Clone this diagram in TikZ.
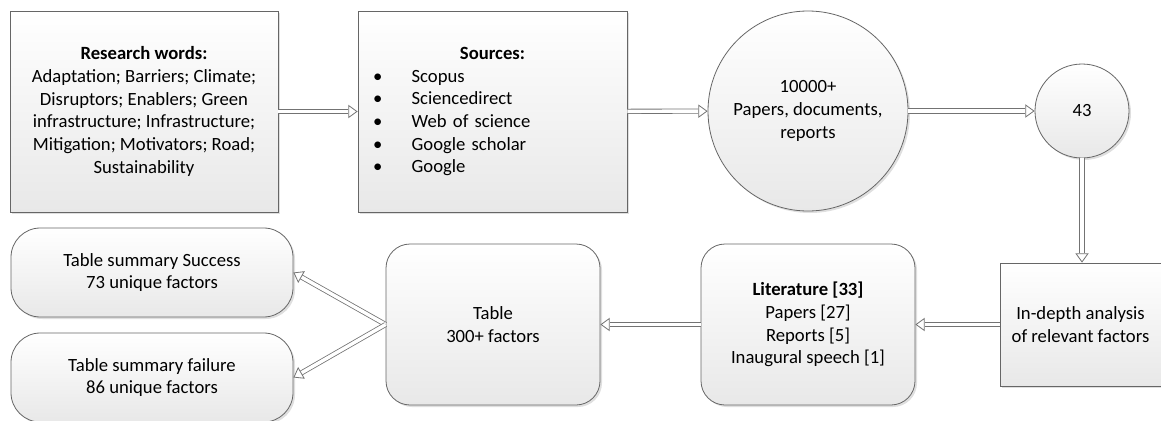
\documentclass[tikz,border=0pt]{standalone}
\usepackage{fontspec}
\setmainfont{Carlito}
\usepackage{tikz}
\usetikzlibrary{arrows.meta, shadows, positioning}

\begin{document}
\begin{tikzpicture}[x=0.75pt, y=-0.75pt, >={Triangle[length=7pt, width=10pt, fill=white]}, semithick]
    \tikzstyle{every node}=[font=\fontsize{14}{17}\selectfont, text=black]
    \tikzstyle{block}=[shape=rectangle, draw=black!60, top color=white, bottom color=black!9, drop shadow={shadow xshift=1.5pt, shadow yshift=-1.5pt, opacity=0.25}, inner sep=0pt, align=center]
    \tikzstyle{roundblock}=[block, rounded corners=18pt, minimum width=160.5pt, minimum height=120.75pt]
    \tikzstyle{pill}=[block, rounded corners=22pt, minimum width=211.5pt, minimum height=66.75pt]
    \tikzstyle{disc}=[block, shape=circle]
    \tikzstyle{pipe}=[->, draw=black!55, double=white, double distance=2.6pt, line width=0.6pt]

    \useasboundingbox (0,0) rectangle (1161,421);

    \node[block, minimum width=201pt, minimum height=150.75pt]  (words) at (144,111.5)
        {\textbf{Research words:}\\Adaptation; Barriers; Climate;\\Disruptors; Enablers; Green\\infrastructure; Infrastructure;\\Mitigation; Motivators; Road;\\Sustainability};
    \node[block, minimum width=201.75pt, minimum height=150.75pt, text width=179.25pt, align=left]  (sources) at (492.5,111.5)
        {\makebox[\hsize]{\textbf{Sources:}}\\
         \makebox[29pt][l]{\textbullet}Scopus\\
         \makebox[29pt][l]{\textbullet}Sciencedirect\\
         \makebox[29pt][l]{\textbullet}Web of science\\
         \makebox[29pt][l]{\textbullet}Google scholar\\
         \makebox[29pt][l]{\textbullet}Google};
    \node[disc, minimum size=150pt]  (found) at (808,111)    {10000+\\Papers, documents,\\reports};
    \node[disc, minimum size=70.5pt]  (kept) at (1082,111)    {43};
    \node[block, minimum width=120.75pt, minimum height=92.25pt]  (depth) at (1080.5,324.5)    {In-depth analysis\\of relevant factors};
    \node[roundblock]  (lit) at (808,324.5)    {\textbf{Literature [33]}\\Papers [27]\\Reports [5]\\Inaugural speech [1]};
    \node[roundblock]  (tbl) at (493,324.5)    {Table\\300+ factors};
    \node[pill]  (succ) at (152,272.5)    {Table summary Success\\73 unique factors};
    \node[pill]  (fail) at (152,377.5)    {Table summary failure\\86 unique factors};

    \path
    (words)     edge[pipe]   (sources)
    (sources)   edge[pipe]   (found)
    (found)     edge[pipe]   (kept)
    (kept)      edge[pipe]   (kept |- depth.north)
    (depth)     edge[pipe]   (lit)
    (lit)       edge[pipe]   (tbl)
    (tbl.west)  edge[pipe]   (succ.east)
    (tbl.west)  edge[pipe]   (fail.east)
            ;

\end{tikzpicture}
\end{document}
